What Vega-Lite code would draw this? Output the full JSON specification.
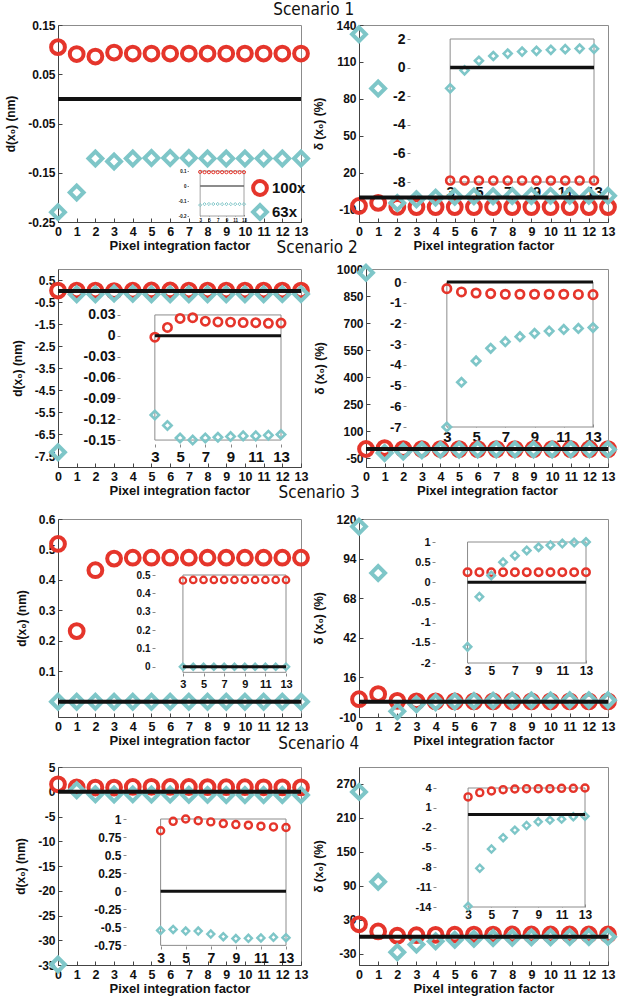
{
"$schema": "https://vega.github.io/schema/vega-lite/v6.json",
"padding": {"left": 4, "top": 0, "right": 0, "bottom": 0},
"background": "white",
"config": {
  "font": "Liberation Sans",
  "view": {"stroke": "#8c8c8c", "strokeWidth": 1},
  "axis": {"grid": false, "labelFont": "Liberation Sans", "labelFontWeight": "bold", "labelColor": "#111", "titleFont": "Liberation Sans", "titleFontWeight": "bold", "titleColor": "#111", "domainColor": "#444", "tickColor": "#444", "tickSize": -4, "labelPadding": 7, "labelOverlap": false},
  "axisX": {"labelFontSize": 12.5, "titleFontSize": 13, "titlePadding": 2, "labelFlush": false},
  "axisY": {"labelFontSize": 12, "titleFontSize": 12, "titlePadding": 10},
  "title": {"font": "Liberation Sans Narrow, DejaVu Sans Condensed, sans-serif", "fontSize": 17, "fontWeight": "normal", "color": "#111", "anchor": "middle", "offset": 2}
},
"datasets": {
  "s1d": [
    {"lens":"100x","x":0,"y":0.105},{"lens":"100x","x":1,"y":0.091},{"lens":"100x","x":2,"y":0.086},{"lens":"100x","x":3,"y":0.094},{"lens":"100x","x":4,"y":0.092},{"lens":"100x","x":5,"y":0.092},{"lens":"100x","x":6,"y":0.092},{"lens":"100x","x":7,"y":0.092},{"lens":"100x","x":8,"y":0.092},{"lens":"100x","x":9,"y":0.092},{"lens":"100x","x":10,"y":0.092},{"lens":"100x","x":11,"y":0.092},{"lens":"100x","x":12,"y":0.092},{"lens":"100x","x":13,"y":0.092},
    {"lens":"63x","x":0,"y":-0.23},{"lens":"63x","x":1,"y":-0.19},{"lens":"63x","x":2,"y":-0.121},{"lens":"63x","x":3,"y":-0.127},{"lens":"63x","x":4,"y":-0.121},{"lens":"63x","x":5,"y":-0.12},{"lens":"63x","x":6,"y":-0.12},{"lens":"63x","x":7,"y":-0.12},{"lens":"63x","x":8,"y":-0.121},{"lens":"63x","x":9,"y":-0.121},{"lens":"63x","x":10,"y":-0.121},{"lens":"63x","x":11,"y":-0.121},{"lens":"63x","x":12,"y":-0.121},{"lens":"63x","x":13,"y":-0.121}
  ],
  "s1p": [
    {"lens":"100x","x":0,"y":-7},{"lens":"100x","x":1,"y":-4.5},{"lens":"100x","x":2,"y":-7.8},{"lens":"100x","x":3,"y":-7.9},{"lens":"100x","x":4,"y":-7.9},{"lens":"100x","x":5,"y":-7.9},{"lens":"100x","x":6,"y":-7.9},{"lens":"100x","x":7,"y":-7.9},{"lens":"100x","x":8,"y":-7.9},{"lens":"100x","x":9,"y":-7.9},{"lens":"100x","x":10,"y":-7.9},{"lens":"100x","x":11,"y":-7.9},{"lens":"100x","x":12,"y":-7.9},{"lens":"100x","x":13,"y":-7.9},
    {"lens":"63x","x":0,"y":132.5},{"lens":"63x","x":1,"y":88.5},{"lens":"63x","x":2,"y":-4.5},{"lens":"63x","x":3,"y":-1.45},{"lens":"63x","x":4,"y":-0.19},{"lens":"63x","x":5,"y":0.48},{"lens":"63x","x":6,"y":0.81},{"lens":"63x","x":7,"y":0.98},{"lens":"63x","x":8,"y":1.12},{"lens":"63x","x":9,"y":1.17},{"lens":"63x","x":10,"y":1.24},{"lens":"63x","x":11,"y":1.29},{"lens":"63x","x":12,"y":1.33},{"lens":"63x","x":13,"y":1.31}
  ],
  "s2d": [
    {"lens":"100x","x":0,"y":0.02},{"lens":"100x","x":1,"y":0.02},{"lens":"100x","x":2,"y":0.02},{"lens":"100x","x":3,"y":-0.002},{"lens":"100x","x":4,"y":0.012},{"lens":"100x","x":5,"y":0.025},{"lens":"100x","x":6,"y":0.026},{"lens":"100x","x":7,"y":0.021},{"lens":"100x","x":8,"y":0.02},{"lens":"100x","x":9,"y":0.0197},{"lens":"100x","x":10,"y":0.019},{"lens":"100x","x":11,"y":0.0188},{"lens":"100x","x":12,"y":0.018},{"lens":"100x","x":13,"y":0.0184},
    {"lens":"63x","x":0,"y":-7.33},{"lens":"63x","x":1,"y":-0.15},{"lens":"63x","x":2,"y":-0.15},{"lens":"63x","x":3,"y":-0.114},{"lens":"63x","x":4,"y":-0.129},{"lens":"63x","x":5,"y":-0.147},{"lens":"63x","x":6,"y":-0.15},{"lens":"63x","x":7,"y":-0.147},{"lens":"63x","x":8,"y":-0.146},{"lens":"63x","x":9,"y":-0.145},{"lens":"63x","x":10,"y":-0.144},{"lens":"63x","x":11,"y":-0.144},{"lens":"63x","x":12,"y":-0.143},{"lens":"63x","x":13,"y":-0.142}
  ],
  "s2p": [
    {"lens":"100x","x":0,"y":0},{"lens":"100x","x":1,"y":5},{"lens":"100x","x":2,"y":-0.3},{"lens":"100x","x":3,"y":-0.32},{"lens":"100x","x":4,"y":-0.48},{"lens":"100x","x":5,"y":-0.53},{"lens":"100x","x":6,"y":-0.56},{"lens":"100x","x":7,"y":-0.59},{"lens":"100x","x":8,"y":-0.59},{"lens":"100x","x":9,"y":-0.59},{"lens":"100x","x":10,"y":-0.59},{"lens":"100x","x":11,"y":-0.59},{"lens":"100x","x":12,"y":-0.6},{"lens":"100x","x":13,"y":-0.61},
    {"lens":"63x","x":0,"y":979},{"lens":"63x","x":1,"y":-22},{"lens":"63x","x":2,"y":-14},{"lens":"63x","x":3,"y":-7.0},{"lens":"63x","x":4,"y":-4.84},{"lens":"63x","x":5,"y":-3.81},{"lens":"63x","x":6,"y":-3.2},{"lens":"63x","x":7,"y":-2.88},{"lens":"63x","x":8,"y":-2.64},{"lens":"63x","x":9,"y":-2.48},{"lens":"63x","x":10,"y":-2.37},{"lens":"63x","x":11,"y":-2.29},{"lens":"63x","x":12,"y":-2.24},{"lens":"63x","x":13,"y":-2.2}
  ],
  "s3d": [
    {"lens":"100x","x":0,"y":0.518},{"lens":"100x","x":1,"y":0.232},{"lens":"100x","x":2,"y":0.432},{"lens":"100x","x":3,"y":0.47},{"lens":"100x","x":4,"y":0.473},{"lens":"100x","x":5,"y":0.473},{"lens":"100x","x":6,"y":0.473},{"lens":"100x","x":7,"y":0.473},{"lens":"100x","x":8,"y":0.473},{"lens":"100x","x":9,"y":0.473},{"lens":"100x","x":10,"y":0.473},{"lens":"100x","x":11,"y":0.473},{"lens":"100x","x":12,"y":0.473},{"lens":"100x","x":13,"y":0.473},
    {"lens":"63x","x":0,"y":0},{"lens":"63x","x":1,"y":0},{"lens":"63x","x":2,"y":0},{"lens":"63x","x":3,"y":0},{"lens":"63x","x":4,"y":0},{"lens":"63x","x":5,"y":0},{"lens":"63x","x":6,"y":0},{"lens":"63x","x":7,"y":0},{"lens":"63x","x":8,"y":0},{"lens":"63x","x":9,"y":0},{"lens":"63x","x":10,"y":0},{"lens":"63x","x":11,"y":0},{"lens":"63x","x":12,"y":0},{"lens":"63x","x":13,"y":0}
  ],
  "s3p": [
    {"lens":"100x","x":0,"y":1.7},{"lens":"100x","x":1,"y":5},{"lens":"100x","x":2,"y":0.6},{"lens":"100x","x":3,"y":0.25},{"lens":"100x","x":4,"y":0.25},{"lens":"100x","x":5,"y":0.25},{"lens":"100x","x":6,"y":0.25},{"lens":"100x","x":7,"y":0.25},{"lens":"100x","x":8,"y":0.25},{"lens":"100x","x":9,"y":0.25},{"lens":"100x","x":10,"y":0.25},{"lens":"100x","x":11,"y":0.25},{"lens":"100x","x":12,"y":0.25},{"lens":"100x","x":13,"y":0.25},
    {"lens":"63x","x":0,"y":115},{"lens":"63x","x":1,"y":84.5},{"lens":"63x","x":2,"y":-6.3},{"lens":"63x","x":3,"y":-1.6},{"lens":"63x","x":4,"y":-0.36},{"lens":"63x","x":5,"y":0.17},{"lens":"63x","x":6,"y":0.5},{"lens":"63x","x":7,"y":0.66},{"lens":"63x","x":8,"y":0.79},{"lens":"63x","x":9,"y":0.87},{"lens":"63x","x":10,"y":0.92},{"lens":"63x","x":11,"y":0.96},{"lens":"63x","x":12,"y":0.99},{"lens":"63x","x":13,"y":1.0}
  ],
  "s4d": [
    {"lens":"100x","x":0,"y":1.5},{"lens":"100x","x":1,"y":0.9},{"lens":"100x","x":2,"y":0.85},{"lens":"100x","x":3,"y":0.837},{"lens":"100x","x":4,"y":0.968},{"lens":"100x","x":5,"y":1.0},{"lens":"100x","x":6,"y":0.977},{"lens":"100x","x":7,"y":0.96},{"lens":"100x","x":8,"y":0.937},{"lens":"100x","x":9,"y":0.923},{"lens":"100x","x":10,"y":0.914},{"lens":"100x","x":11,"y":0.9},{"lens":"100x","x":12,"y":0.89},{"lens":"100x","x":13,"y":0.882},
    {"lens":"63x","x":0,"y":-34.9},{"lens":"63x","x":1,"y":0.3},{"lens":"63x","x":2,"y":-0.5},{"lens":"63x","x":3,"y":-0.543},{"lens":"63x","x":4,"y":-0.529},{"lens":"63x","x":5,"y":-0.552},{"lens":"63x","x":6,"y":-0.552},{"lens":"63x","x":7,"y":-0.593},{"lens":"63x","x":8,"y":-0.629},{"lens":"63x","x":9,"y":-0.656},{"lens":"63x","x":10,"y":-0.652},{"lens":"63x","x":11,"y":-0.647},{"lens":"63x","x":12,"y":-0.638},{"lens":"63x","x":13,"y":-0.643}
  ],
  "s4p": [
    {"lens":"100x","x":0,"y":22},{"lens":"100x","x":1,"y":9.3},{"lens":"100x","x":2,"y":1.8},{"lens":"100x","x":3,"y":2.65},{"lens":"100x","x":4,"y":3.3},{"lens":"100x","x":5,"y":3.55},{"lens":"100x","x":6,"y":3.75},{"lens":"100x","x":7,"y":3.85},{"lens":"100x","x":8,"y":3.9},{"lens":"100x","x":9,"y":3.9},{"lens":"100x","x":10,"y":3.9},{"lens":"100x","x":11,"y":3.95},{"lens":"100x","x":12,"y":3.95},{"lens":"100x","x":13,"y":4.0},
    {"lens":"63x","x":0,"y":256},{"lens":"63x","x":1,"y":97},{"lens":"63x","x":2,"y":-27.5},{"lens":"63x","x":3,"y":-13.9},{"lens":"63x","x":4,"y":-8.14},{"lens":"63x","x":5,"y":-5.23},{"lens":"63x","x":6,"y":-3.52},{"lens":"63x","x":7,"y":-2.37},{"lens":"63x","x":8,"y":-1.67},{"lens":"63x","x":9,"y":-1.12},{"lens":"63x","x":10,"y":-0.86},{"lens":"63x","x":11,"y":-0.71},{"lens":"63x","x":12,"y":-0.36},{"lens":"63x","x":13,"y":-0.26}
  ]
},
"columns": 1,
"align": "none",
"spacing": -14,
"bounds": "full",
"resolve": {"legend": {"color": "independent", "shape": "independent"}},
"concat": [
 {
  "title": {"text": "Scenario 1", "offset": 0},
  "spacing": 58, "bounds": "flush",
  "resolve": {"legend": {"color": "independent", "shape": "independent"}},
  "hconcat": [
   {
    "width": 243, "height": 197,
    "layer": [
     {"layer": [
       {"data": {"name": "s1d"}, "mark": {"type": "point", "filled": false, "size": 190, "strokeWidth": 4, "opacity": 1},
        "encoding": {
         "x": {"field": "x", "type": "quantitative", "scale": {"domain": [0, 13]}, "axis": {"values": [0,1,2,3,4,5,6,7,8,9,10,11,12,13], "tickCount": 20, "title": "Pixel integration factor", "labelOverlap": false, "labelExpr": "replace(format(datum.value, '~g'), '−', '-')"}},
         "y": {"field": "y", "type": "quantitative", "scale": {"domain": [-0.25, 0.15]}, "axis": {"values": [0.15, 0.05, -0.05, -0.15, -0.25], "tickCount": 20, "title": "d(x₀) (nm)", "labelOverlap": false, "labelExpr": "replace(format(datum.value, '~g'), '−', '-')"}},
         "color": {"field": "lens", "type": "nominal", "scale": {"domain": ["100x","63x"], "range": ["#e5352b","#7ec6c8"]}, "legend": {"orient": "bottom-right", "offset": -5, "padding": 0, "title": null, "labelFontSize": 15, "labelFontWeight": "bold", "labelFont": "Liberation Sans", "labelColor": "#111", "symbolSize": 190, "symbolStrokeWidth": 4, "rowPadding": -13, "labelOffset": 3}},
         "shape": {"field": "lens", "type": "nominal", "scale": {"domain": ["100x","63x"], "range": ["circle","diamond"]}, "legend": {"orient": "bottom-right", "offset": -5, "padding": 0, "title": null, "labelFontSize": 15, "labelFontWeight": "bold", "labelFont": "Liberation Sans", "labelColor": "#111", "symbolSize": 190, "symbolStrokeWidth": 4, "rowPadding": -13, "labelOffset": 3}}
        }},
       {"data": {"values": [{}]}, "mark": {"type": "rule", "color": "#111", "strokeWidth": 4},
        "encoding": {"x": {"datum": 0, "type": "quantitative"}, "x2": {"datum": 13}, "y": {"datum": 0, "type": "quantitative"}}}
     ]},
     {"layer": [
       {"data": {"values": [{}]}, "mark": {"type": "rect", "fill": "white", "stroke": "#8c8c8c", "strokeWidth": 0.8},
        "encoding": {"x": {"datum": 3, "type": "quantitative"}, "x2": {"datum": 13}, "y": {"datum": -0.2, "type": "quantitative"}, "y2": {"datum": 0.1}}},
       {"data": {"name": "s1d"}, "transform": [{"filter": "datum.x >= 3"}], "mark": {"type": "point", "filled": false, "size": 10, "strokeWidth": 1, "opacity": 1},
        "encoding": {
         "x": {"field": "x", "type": "quantitative", "scale": {"domain": [3, 13], "range": [129, 186]}, "axis": {"orient": "bottom", "offset": -6, "values": [3,5,7,9,11,13], "tickCount": 20, "title": null, "labelFontSize": 4.5, "tickSize": -1.5, "labelPadding": 2.5, "domain": false, "tickColor": "#888", "labelOverlap": false, "labelExpr": "replace(format(datum.value, '~g'), '−', '-')"}},
         "y": {"field": "y", "type": "quantitative", "scale": {"domain": [-0.2, 0.1], "range": [191, 146]}, "axis": {"orient": "left", "offset": -129, "values": [0.1, 0, -0.1, -0.2], "tickCount": 20, "title": null, "labelFontSize": 4.5, "tickSize": -1.5, "labelPadding": 2.5, "domain": false, "tickColor": "#888", "labelOverlap": false, "labelExpr": "replace(format(datum.value, '~g'), '−', '-')"}},
         "color": {"field": "lens", "type": "nominal", "scale": {"domain": ["100x","63x"], "range": ["#e5352b","#7ec6c8"]}, "legend": null},
         "shape": {"field": "lens", "type": "nominal", "scale": {"domain": ["100x","63x"], "range": ["circle","diamond"]}, "legend": null}
        }},
       {"data": {"values": [{}]}, "mark": {"type": "rule", "color": "#666", "strokeWidth": 1.5},
        "encoding": {"x": {"datum": 3, "type": "quantitative"}, "x2": {"datum": 13}, "y": {"datum": 0, "type": "quantitative"}}}
     ]}
    ],
    "resolve": {"scale": {"x": "independent", "y": "independent"}}
   },
   {
    "width": 249, "height": 197,
    "layer": [
     {"layer": [
       {"data": {"name": "s1p"}, "mark": {"type": "point", "filled": false, "size": 190, "strokeWidth": 4, "opacity": 1},
        "encoding": {
         "x": {"field": "x", "type": "quantitative", "scale": {"domain": [0, 13]}, "axis": {"values": [0,1,2,3,4,5,6,7,8,9,10,11,12,13], "tickCount": 20, "title": "Pixel integration factor", "labelOverlap": false, "labelExpr": "replace(format(datum.value, '~g'), '−', '-')"}},
         "y": {"field": "y", "type": "quantitative", "scale": {"domain": [-10, 140]}, "axis": {"values": [140, 110, 80, 50, 20, -10], "tickCount": 20, "title": "δ (x₀) (%)", "labelOverlap": false, "labelExpr": "replace(format(datum.value, '~g'), '−', '-')"}},
         "color": {"field": "lens", "type": "nominal", "scale": {"domain": ["100x","63x"], "range": ["#e5352b","#7ec6c8"]}, "legend": null},
         "shape": {"field": "lens", "type": "nominal", "scale": {"domain": ["100x","63x"], "range": ["circle","diamond"]}, "legend": null}
        }},
       {"data": {"values": [{}]}, "mark": {"type": "rule", "color": "#111", "strokeWidth": 4},
        "encoding": {"x": {"datum": 0, "type": "quantitative"}, "x2": {"datum": 13}, "y": {"datum": 0, "type": "quantitative"}}}
     ]},
     {"layer": [
       {"data": {"values": [{}]}, "mark": {"type": "rect", "fill": "white", "stroke": "#8c8c8c", "strokeWidth": 1},
        "encoding": {"x": {"datum": 3, "type": "quantitative"}, "x2": {"datum": 13}, "y": {"datum": -8, "type": "quantitative"}, "y2": {"datum": 2}}},
       {"data": {"name": "s1p"}, "transform": [{"filter": "datum.x >= 3"}], "mark": {"type": "point", "filled": false, "size": 64, "strokeWidth": 2.6, "opacity": 1},
        "encoding": {
         "x": {"field": "x", "type": "quantitative", "scale": {"domain": [3, 13], "range": [48, 235]}, "axis": {"orient": "bottom", "offset": -40, "values": [3,5,7,9,11,13], "tickCount": 20, "title": null, "labelFontSize": 15, "tickSize": -3, "labelPadding": 5, "domain": false, "tickColor": "#888", "labelOverlap": false, "labelExpr": "replace(format(datum.value, '~g'), '−', '-')"}},
         "y": {"field": "y", "type": "quantitative", "scale": {"domain": [-8, 2], "range": [157, 14]}, "axis": {"orient": "left", "offset": -48, "values": [2, 0, -2, -4, -6, -8], "tickCount": 20, "title": null, "labelFontSize": 14, "tickSize": -3, "labelPadding": 5, "domain": false, "tickColor": "#888", "labelOverlap": false, "labelExpr": "replace(format(datum.value, '~g'), '−', '-')"}},
         "color": {"field": "lens", "type": "nominal", "scale": {"domain": ["100x","63x"], "range": ["#e5352b","#7ec6c8"]}, "legend": null},
         "shape": {"field": "lens", "type": "nominal", "scale": {"domain": ["100x","63x"], "range": ["circle","diamond"]}, "legend": null}
        }},
       {"data": {"values": [{}]}, "mark": {"type": "rule", "color": "#111", "strokeWidth": 3.5},
        "encoding": {"x": {"datum": 3, "type": "quantitative"}, "x2": {"datum": 13}, "y": {"datum": 0, "type": "quantitative"}}}
     ]}
    ],
    "resolve": {"scale": {"x": "independent", "y": "independent"}}
   }
  ]
 },
 {
  "title": {"text": "Scenario 2", "offset": 0},
  "spacing": 65, "bounds": "flush",
  "hconcat": [
   {
    "width": 243, "height": 198,
    "layer": [
     {"layer": [
       {"data": {"name": "s2d"}, "mark": {"type": "point", "filled": false, "size": 190, "strokeWidth": 4, "opacity": 1},
        "encoding": {
         "x": {"field": "x", "type": "quantitative", "scale": {"domain": [0, 13]}, "axis": {"values": [0,1,2,3,4,5,6,7,8,9,10,11,12,13], "tickCount": 20, "title": "Pixel integration factor", "labelOverlap": false, "labelExpr": "replace(format(datum.value, '~g'), '−', '-')"}},
         "y": {"field": "y", "type": "quantitative", "scale": {"domain": [-7.5, 0.5]}, "axis": {"values": [0.5, -0.5, -1.5, -2.5, -3.5, -4.5, -5.5, -6.5, -7.5], "tickCount": 20, "title": "d(x₀) (nm)", "labelOverlap": false, "labelExpr": "replace(format(datum.value, '~g'), '−', '-')"}},
         "color": {"field": "lens", "type": "nominal", "scale": {"domain": ["100x","63x"], "range": ["#e5352b","#7ec6c8"]}, "legend": null},
         "shape": {"field": "lens", "type": "nominal", "scale": {"domain": ["100x","63x"], "range": ["circle","diamond"]}, "legend": null}
        }},
       {"data": {"values": [{}]}, "mark": {"type": "rule", "color": "#111", "strokeWidth": 4},
        "encoding": {"x": {"datum": 0, "type": "quantitative"}, "x2": {"datum": 13}, "y": {"datum": 0, "type": "quantitative"}}}
     ]},
     {"layer": [
       {"data": {"values": [{}]}, "mark": {"type": "rect", "fill": "white", "stroke": "#8c8c8c", "strokeWidth": 1},
        "encoding": {"x": {"datum": 3, "type": "quantitative"}, "x2": {"datum": 13}, "y": {"datum": -0.15, "type": "quantitative"}, "y2": {"datum": 0.03}}},
       {"data": {"name": "s2d"}, "transform": [{"filter": "datum.x >= 3"}], "mark": {"type": "point", "filled": false, "size": 70, "strokeWidth": 2.6, "opacity": 1},
        "encoding": {
         "x": {"field": "x", "type": "quantitative", "scale": {"domain": [3, 13], "range": [59, 223]}, "axis": {"orient": "bottom", "offset": -20, "values": [3,5,7,9,11,13], "tickCount": 20, "title": null, "labelFontSize": 15, "tickSize": -3, "labelPadding": 5, "domain": false, "tickColor": "#888", "labelOverlap": false, "labelExpr": "replace(format(datum.value, '~g'), '−', '-')"}},
         "y": {"field": "y", "type": "quantitative", "scale": {"domain": [-0.15, 0.03], "range": [178, 39]}, "axis": {"orient": "left", "offset": -59, "values": [0.03, 0, -0.03, -0.06, -0.09, -0.12, -0.15], "tickCount": 20, "title": null, "labelFontSize": 14, "tickSize": -3, "labelPadding": 5, "domain": false, "tickColor": "#888", "labelOverlap": false, "labelExpr": "replace(format(datum.value, '~g'), '−', '-')"}},
         "color": {"field": "lens", "type": "nominal", "scale": {"domain": ["100x","63x"], "range": ["#e5352b","#7ec6c8"]}, "legend": null},
         "shape": {"field": "lens", "type": "nominal", "scale": {"domain": ["100x","63x"], "range": ["circle","diamond"]}, "legend": null}
        }},
       {"data": {"values": [{}]}, "mark": {"type": "rule", "color": "#111", "strokeWidth": 3},
        "encoding": {"x": {"datum": 3, "type": "quantitative"}, "x2": {"datum": 13}, "y": {"datum": 0, "type": "quantitative"}}}
     ]}
    ],
    "resolve": {"scale": {"x": "independent", "y": "independent"}}
   },
   {
    "width": 242, "height": 198,
    "layer": [
     {"layer": [
       {"data": {"name": "s2p"}, "mark": {"type": "point", "filled": false, "size": 190, "strokeWidth": 4, "opacity": 1},
        "encoding": {
         "x": {"field": "x", "type": "quantitative", "scale": {"domain": [0, 13]}, "axis": {"values": [0,1,2,3,4,5,6,7,8,9,10,11,12,13], "tickCount": 20, "title": "Pixel integration factor", "labelOverlap": false, "labelExpr": "replace(format(datum.value, '~g'), '−', '-')"}},
         "y": {"field": "y", "type": "quantitative", "scale": {"domain": [-50, 1000]}, "axis": {"values": [1000, 850, 700, 550, 400, 250, 100, -50], "tickCount": 20, "title": "δ (x₀) (%)", "labelOverlap": false, "labelExpr": "replace(format(datum.value, '~g'), '−', '-')"}},
         "color": {"field": "lens", "type": "nominal", "scale": {"domain": ["100x","63x"], "range": ["#e5352b","#7ec6c8"]}, "legend": null},
         "shape": {"field": "lens", "type": "nominal", "scale": {"domain": ["100x","63x"], "range": ["circle","diamond"]}, "legend": null}
        }},
       {"data": {"values": [{}]}, "mark": {"type": "rule", "color": "#111", "strokeWidth": 4},
        "encoding": {"x": {"datum": 0, "type": "quantitative"}, "x2": {"datum": 13}, "y": {"datum": 0, "type": "quantitative"}}}
     ]},
     {"layer": [
       {"data": {"values": [{}]}, "mark": {"type": "rect", "fill": "white", "stroke": "#8c8c8c", "strokeWidth": 1},
        "encoding": {"x": {"datum": 3, "type": "quantitative"}, "x2": {"datum": 13}, "y": {"datum": -7, "type": "quantitative"}, "y2": {"datum": 0}}},
       {"data": {"name": "s2p"}, "transform": [{"filter": "datum.x >= 3"}], "mark": {"type": "point", "filled": false, "size": 70, "strokeWidth": 2.7, "opacity": 1},
        "encoding": {
         "x": {"field": "x", "type": "quantitative", "scale": {"domain": [3, 13], "range": [37, 227]}, "axis": {"orient": "bottom", "offset": -40, "values": [3,5,7,9,11,13], "tickCount": 20, "title": null, "labelFontSize": 15, "tickSize": -3, "labelPadding": 5, "domain": false, "tickColor": "#888", "labelOverlap": false, "labelExpr": "replace(format(datum.value, '~g'), '−', '-')"}},
         "y": {"field": "y", "type": "quantitative", "scale": {"domain": [-7, 0], "range": [158, 13]}, "axis": {"orient": "left", "offset": -37, "values": [0, -1, -2, -3, -4, -5, -6, -7], "tickCount": 20, "title": null, "labelFontSize": 13, "tickSize": -3, "labelPadding": 5, "domain": false, "tickColor": "#888", "labelOverlap": false, "labelExpr": "replace(format(datum.value, '~g'), '−', '-')"}},
         "color": {"field": "lens", "type": "nominal", "scale": {"domain": ["100x","63x"], "range": ["#e5352b","#7ec6c8"]}, "legend": null},
         "shape": {"field": "lens", "type": "nominal", "scale": {"domain": ["100x","63x"], "range": ["circle","diamond"]}, "legend": null}
        }},
       {"data": {"values": [{}]}, "mark": {"type": "rule", "color": "#111", "strokeWidth": 3},
        "encoding": {"x": {"datum": 3, "type": "quantitative"}, "x2": {"datum": 13}, "y": {"datum": 0, "type": "quantitative"}}}
     ]}
    ],
    "resolve": {"scale": {"x": "independent", "y": "independent"}}
   }
  ]
 },
 {
  "title": {"text": "Scenario 3", "offset": 9},
  "spacing": 58, "bounds": "flush",
  "hconcat": [
   {
    "width": 243, "height": 198,
    "layer": [
     {"layer": [
       {"data": {"name": "s3d"}, "mark": {"type": "point", "filled": false, "size": 190, "strokeWidth": 4, "opacity": 1},
        "encoding": {
         "x": {"field": "x", "type": "quantitative", "scale": {"domain": [0, 13]}, "axis": {"values": [0,1,2,3,4,5,6,7,8,9,10,11,12,13], "tickCount": 20, "title": "Pixel integration factor", "labelOverlap": false, "labelExpr": "replace(format(datum.value, '~g'), '−', '-')"}},
         "y": {"field": "y", "type": "quantitative", "scale": {"domain": [-0.05, 0.6]}, "axis": {"values": [0.6, 0.5, 0.4, 0.3, 0.2, 0.1], "tickCount": 20, "title": "d(x₀) (nm)", "labelOverlap": false, "labelExpr": "replace(format(datum.value, '~g'), '−', '-')"}},
         "color": {"field": "lens", "type": "nominal", "scale": {"domain": ["100x","63x"], "range": ["#e5352b","#7ec6c8"]}, "legend": null},
         "shape": {"field": "lens", "type": "nominal", "scale": {"domain": ["100x","63x"], "range": ["circle","diamond"]}, "legend": null}
        }},
       {"data": {"values": [{}]}, "mark": {"type": "rule", "color": "#111", "strokeWidth": 4},
        "encoding": {"x": {"datum": 0, "type": "quantitative"}, "x2": {"datum": 13}, "y": {"datum": 0, "type": "quantitative"}}}
     ]},
     {"layer": [
       {"data": {"values": [{}]}, "mark": {"type": "rect", "fill": "white", "stroke": "#8c8c8c", "strokeWidth": 1},
        "encoding": {"x": {"datum": 3, "type": "quantitative"}, "x2": {"datum": 13}, "y": {"datum": -0.03, "type": "quantitative"}, "y2": {"datum": 0.5}}},
       {"data": {"name": "s3d"}, "transform": [{"filter": "datum.x >= 3"}], "mark": {"type": "point", "filled": false, "size": 42, "strokeWidth": 2.2, "opacity": 1},
        "encoding": {
         "x": {"field": "x", "type": "quantitative", "scale": {"domain": [3, 13], "range": [94, 228]}, "axis": {"orient": "bottom", "offset": -41, "values": [3,5,7,9,11,13], "tickCount": 20, "title": null, "labelFontSize": 11, "tickSize": -3, "labelPadding": 5, "domain": false, "tickColor": "#888", "labelOverlap": false, "labelExpr": "replace(format(datum.value, '~g'), '−', '-')"}},
         "y": {"field": "y", "type": "quantitative", "scale": {"domain": [-0.03, 0.5], "range": [157, 56]}, "axis": {"orient": "left", "offset": -94, "values": [0.5, 0.4, 0.3, 0.2, 0.1, 0], "tickCount": 20, "title": null, "labelFontSize": 10, "tickSize": -3, "labelPadding": 5, "domain": false, "tickColor": "#888", "labelOverlap": false, "labelExpr": "replace(format(datum.value, '~g'), '−', '-')"}},
         "color": {"field": "lens", "type": "nominal", "scale": {"domain": ["100x","63x"], "range": ["#e5352b","#7ec6c8"]}, "legend": null},
         "shape": {"field": "lens", "type": "nominal", "scale": {"domain": ["100x","63x"], "range": ["circle","diamond"]}, "legend": null}
        }},
       {"data": {"values": [{}]}, "mark": {"type": "rule", "color": "#111", "strokeWidth": 3},
        "encoding": {"x": {"datum": 3, "type": "quantitative"}, "x2": {"datum": 13}, "y": {"datum": 0, "type": "quantitative"}}}
     ]}
    ],
    "resolve": {"scale": {"x": "independent", "y": "independent"}}
   },
   {
    "width": 249, "height": 198,
    "layer": [
     {"layer": [
       {"data": {"name": "s3p"}, "mark": {"type": "point", "filled": false, "size": 190, "strokeWidth": 4, "opacity": 1},
        "encoding": {
         "x": {"field": "x", "type": "quantitative", "scale": {"domain": [0, 13]}, "axis": {"values": [0,1,2,3,4,5,6,7,8,9,10,11,12,13], "tickCount": 20, "title": "Pixel integration factor", "labelOverlap": false, "labelExpr": "replace(format(datum.value, '~g'), '−', '-')"}},
         "y": {"field": "y", "type": "quantitative", "scale": {"domain": [-10, 120]}, "axis": {"values": [120, 94, 68, 42, 16, -10], "tickCount": 20, "title": "δ (x₀) (%)", "labelOverlap": false, "labelExpr": "replace(format(datum.value, '~g'), '−', '-')"}},
         "color": {"field": "lens", "type": "nominal", "scale": {"domain": ["100x","63x"], "range": ["#e5352b","#7ec6c8"]}, "legend": null},
         "shape": {"field": "lens", "type": "nominal", "scale": {"domain": ["100x","63x"], "range": ["circle","diamond"]}, "legend": null}
        }},
       {"data": {"values": [{}]}, "mark": {"type": "rule", "color": "#111", "strokeWidth": 4},
        "encoding": {"x": {"datum": 0, "type": "quantitative"}, "x2": {"datum": 13}, "y": {"datum": 0, "type": "quantitative"}}}
     ]},
     {"layer": [
       {"data": {"values": [{}]}, "mark": {"type": "rect", "fill": "white", "stroke": "#8c8c8c", "strokeWidth": 1},
        "encoding": {"x": {"datum": 3, "type": "quantitative"}, "x2": {"datum": 13}, "y": {"datum": -2, "type": "quantitative"}, "y2": {"datum": 1}}},
       {"data": {"name": "s3p"}, "transform": [{"filter": "datum.x >= 3"}], "mark": {"type": "point", "filled": false, "size": 56, "strokeWidth": 2.5, "opacity": 1},
        "encoding": {
         "x": {"field": "x", "type": "quantitative", "scale": {"domain": [3, 13], "range": [73, 227]}, "axis": {"orient": "bottom", "offset": -54, "values": [3,5,7,9,11,13], "tickCount": 20, "title": null, "labelFontSize": 12, "tickSize": -3, "labelPadding": 5, "domain": false, "tickColor": "#888", "labelOverlap": false, "labelExpr": "replace(format(datum.value, '~g'), '−', '-')"}},
         "y": {"field": "y", "type": "quantitative", "scale": {"domain": [-2, 1], "range": [144, 23]}, "axis": {"orient": "left", "offset": -73, "values": [1, 0.5, 0, -0.5, -1, -1.5, -2], "tickCount": 20, "title": null, "labelFontSize": 11, "tickSize": -3, "labelPadding": 5, "domain": false, "tickColor": "#888", "labelOverlap": false, "labelExpr": "replace(format(datum.value, '~g'), '−', '-')"}},
         "color": {"field": "lens", "type": "nominal", "scale": {"domain": ["100x","63x"], "range": ["#e5352b","#7ec6c8"]}, "legend": null},
         "shape": {"field": "lens", "type": "nominal", "scale": {"domain": ["100x","63x"], "range": ["circle","diamond"]}, "legend": null}
        }},
       {"data": {"values": [{}]}, "mark": {"type": "rule", "color": "#111", "strokeWidth": 3},
        "encoding": {"x": {"datum": 3, "type": "quantitative"}, "x2": {"datum": 13}, "y": {"datum": 0, "type": "quantitative"}}}
     ]}
    ],
    "resolve": {"scale": {"x": "independent", "y": "independent"}}
   }
  ]
 },
 {
  "title": {"text": "Scenario 4", "offset": 8},
  "spacing": 58, "bounds": "flush",
  "hconcat": [
   {
    "width": 243, "height": 198,
    "layer": [
     {"layer": [
       {"data": {"name": "s4d"}, "mark": {"type": "point", "filled": false, "size": 190, "strokeWidth": 4, "opacity": 1},
        "encoding": {
         "x": {"field": "x", "type": "quantitative", "scale": {"domain": [0, 13]}, "axis": {"values": [0,1,2,3,4,5,6,7,8,9,10,11,12,13], "tickCount": 20, "title": "Pixel integration factor", "labelOverlap": false, "labelExpr": "replace(format(datum.value, '~g'), '−', '-')"}},
         "y": {"field": "y", "type": "quantitative", "scale": {"domain": [-35, 5]}, "axis": {"values": [5, 0, -5, -10, -15, -20, -25, -30, -35], "tickCount": 20, "title": "d(x₀) (nm)", "labelOverlap": false, "labelExpr": "replace(format(datum.value, '~g'), '−', '-')"}},
         "color": {"field": "lens", "type": "nominal", "scale": {"domain": ["100x","63x"], "range": ["#e5352b","#7ec6c8"]}, "legend": null},
         "shape": {"field": "lens", "type": "nominal", "scale": {"domain": ["100x","63x"], "range": ["circle","diamond"]}, "legend": null}
        }},
       {"data": {"values": [{}]}, "mark": {"type": "rule", "color": "#111", "strokeWidth": 4},
        "encoding": {"x": {"datum": 0, "type": "quantitative"}, "x2": {"datum": 13}, "y": {"datum": 0, "type": "quantitative"}}}
     ]},
     {"layer": [
       {"data": {"values": [{}]}, "mark": {"type": "rect", "fill": "white", "stroke": "#8c8c8c", "strokeWidth": 1},
        "encoding": {"x": {"datum": 3, "type": "quantitative"}, "x2": {"datum": 13}, "y": {"datum": -0.75, "type": "quantitative"}, "y2": {"datum": 1}}},
       {"data": {"name": "s4d"}, "transform": [{"filter": "datum.x >= 3"}], "mark": {"type": "point", "filled": false, "size": 50, "strokeWidth": 2.4, "opacity": 1},
        "encoding": {
         "x": {"field": "x", "type": "quantitative", "scale": {"domain": [3, 13], "range": [65, 228]}, "axis": {"orient": "bottom", "offset": -16, "values": [3,5,7,9,11,13], "tickCount": 20, "title": null, "labelFontSize": 14, "tickSize": -3, "labelPadding": 5, "domain": false, "tickColor": "#888", "labelOverlap": false, "labelExpr": "replace(format(datum.value, '~g'), '−', '-')"}},
         "y": {"field": "y", "type": "quantitative", "scale": {"domain": [-0.75, 1], "range": [182, 52]}, "axis": {"orient": "left", "offset": -65, "values": [1, 0.75, 0.5, 0.25, 0, -0.25, -0.5, -0.75], "tickCount": 20, "title": null, "labelFontSize": 12, "tickSize": -3, "labelPadding": 5, "domain": false, "tickColor": "#888", "labelOverlap": false, "labelExpr": "replace(format(datum.value, '~g'), '−', '-')"}},
         "color": {"field": "lens", "type": "nominal", "scale": {"domain": ["100x","63x"], "range": ["#e5352b","#7ec6c8"]}, "legend": null},
         "shape": {"field": "lens", "type": "nominal", "scale": {"domain": ["100x","63x"], "range": ["circle","diamond"]}, "legend": null}
        }},
       {"data": {"values": [{}]}, "mark": {"type": "rule", "color": "#111", "strokeWidth": 3},
        "encoding": {"x": {"datum": 3, "type": "quantitative"}, "x2": {"datum": 13}, "y": {"datum": 0, "type": "quantitative"}}}
     ]}
    ],
    "resolve": {"scale": {"x": "independent", "y": "independent"}}
   },
   {
    "width": 249, "height": 198,
    "layer": [
     {"layer": [
       {"data": {"name": "s4p"}, "mark": {"type": "point", "filled": false, "size": 190, "strokeWidth": 4, "opacity": 1},
        "encoding": {
         "x": {"field": "x", "type": "quantitative", "scale": {"domain": [0, 13]}, "axis": {"values": [0,1,2,3,4,5,6,7,8,9,10,11,12,13], "tickCount": 20, "title": "Pixel integration factor", "labelOverlap": false, "labelExpr": "replace(format(datum.value, '~g'), '−', '-')"}},
         "y": {"field": "y", "type": "quantitative", "scale": {"domain": [-30, 270]}, "axis": {"values": [270, 210, 150, 90, 30, -30], "tickCount": 20, "title": "δ (x₀) (%)", "labelOverlap": false, "labelExpr": "replace(format(datum.value, '~g'), '−', '-')"}},
         "color": {"field": "lens", "type": "nominal", "scale": {"domain": ["100x","63x"], "range": ["#e5352b","#7ec6c8"]}, "legend": null},
         "shape": {"field": "lens", "type": "nominal", "scale": {"domain": ["100x","63x"], "range": ["circle","diamond"]}, "legend": null}
        }},
       {"data": {"values": [{}]}, "mark": {"type": "rule", "color": "#111", "strokeWidth": 4},
        "encoding": {"x": {"datum": 0, "type": "quantitative"}, "x2": {"datum": 13}, "y": {"datum": 0, "type": "quantitative"}}}
     ]},
     {"layer": [
       {"data": {"values": [{}]}, "mark": {"type": "rect", "fill": "white", "stroke": "#8c8c8c", "strokeWidth": 1},
        "encoding": {"x": {"datum": 3, "type": "quantitative"}, "x2": {"datum": 13}, "y": {"datum": -14, "type": "quantitative"}, "y2": {"datum": 4}}},
       {"data": {"name": "s4p"}, "transform": [{"filter": "datum.x >= 3"}], "mark": {"type": "point", "filled": false, "size": 50, "strokeWidth": 2.4, "opacity": 1},
        "encoding": {
         "x": {"field": "x", "type": "quantitative", "scale": {"domain": [3, 13], "range": [74, 226]}, "axis": {"orient": "bottom", "offset": -58, "values": [3,5,7,9,11,13], "tickCount": 20, "title": null, "labelFontSize": 12, "tickSize": -3, "labelPadding": 5, "domain": false, "tickColor": "#888", "labelOverlap": false, "labelExpr": "replace(format(datum.value, '~g'), '−', '-')"}},
         "y": {"field": "y", "type": "quantitative", "scale": {"domain": [-14, 4], "range": [140, 21]}, "axis": {"orient": "left", "offset": -74, "values": [4, 1, -2, -5, -8, -11, -14], "tickCount": 20, "title": null, "labelFontSize": 11, "tickSize": -3, "labelPadding": 5, "domain": false, "tickColor": "#888", "labelOverlap": false, "labelExpr": "replace(format(datum.value, '~g'), '−', '-')"}},
         "color": {"field": "lens", "type": "nominal", "scale": {"domain": ["100x","63x"], "range": ["#e5352b","#7ec6c8"]}, "legend": null},
         "shape": {"field": "lens", "type": "nominal", "scale": {"domain": ["100x","63x"], "range": ["circle","diamond"]}, "legend": null}
        }},
       {"data": {"values": [{}]}, "mark": {"type": "rule", "color": "#111", "strokeWidth": 3},
        "encoding": {"x": {"datum": 3, "type": "quantitative"}, "x2": {"datum": 13}, "y": {"datum": 0, "type": "quantitative"}}}
     ]}
    ],
    "resolve": {"scale": {"x": "independent", "y": "independent"}}
   }
  ]
 }
]
}
